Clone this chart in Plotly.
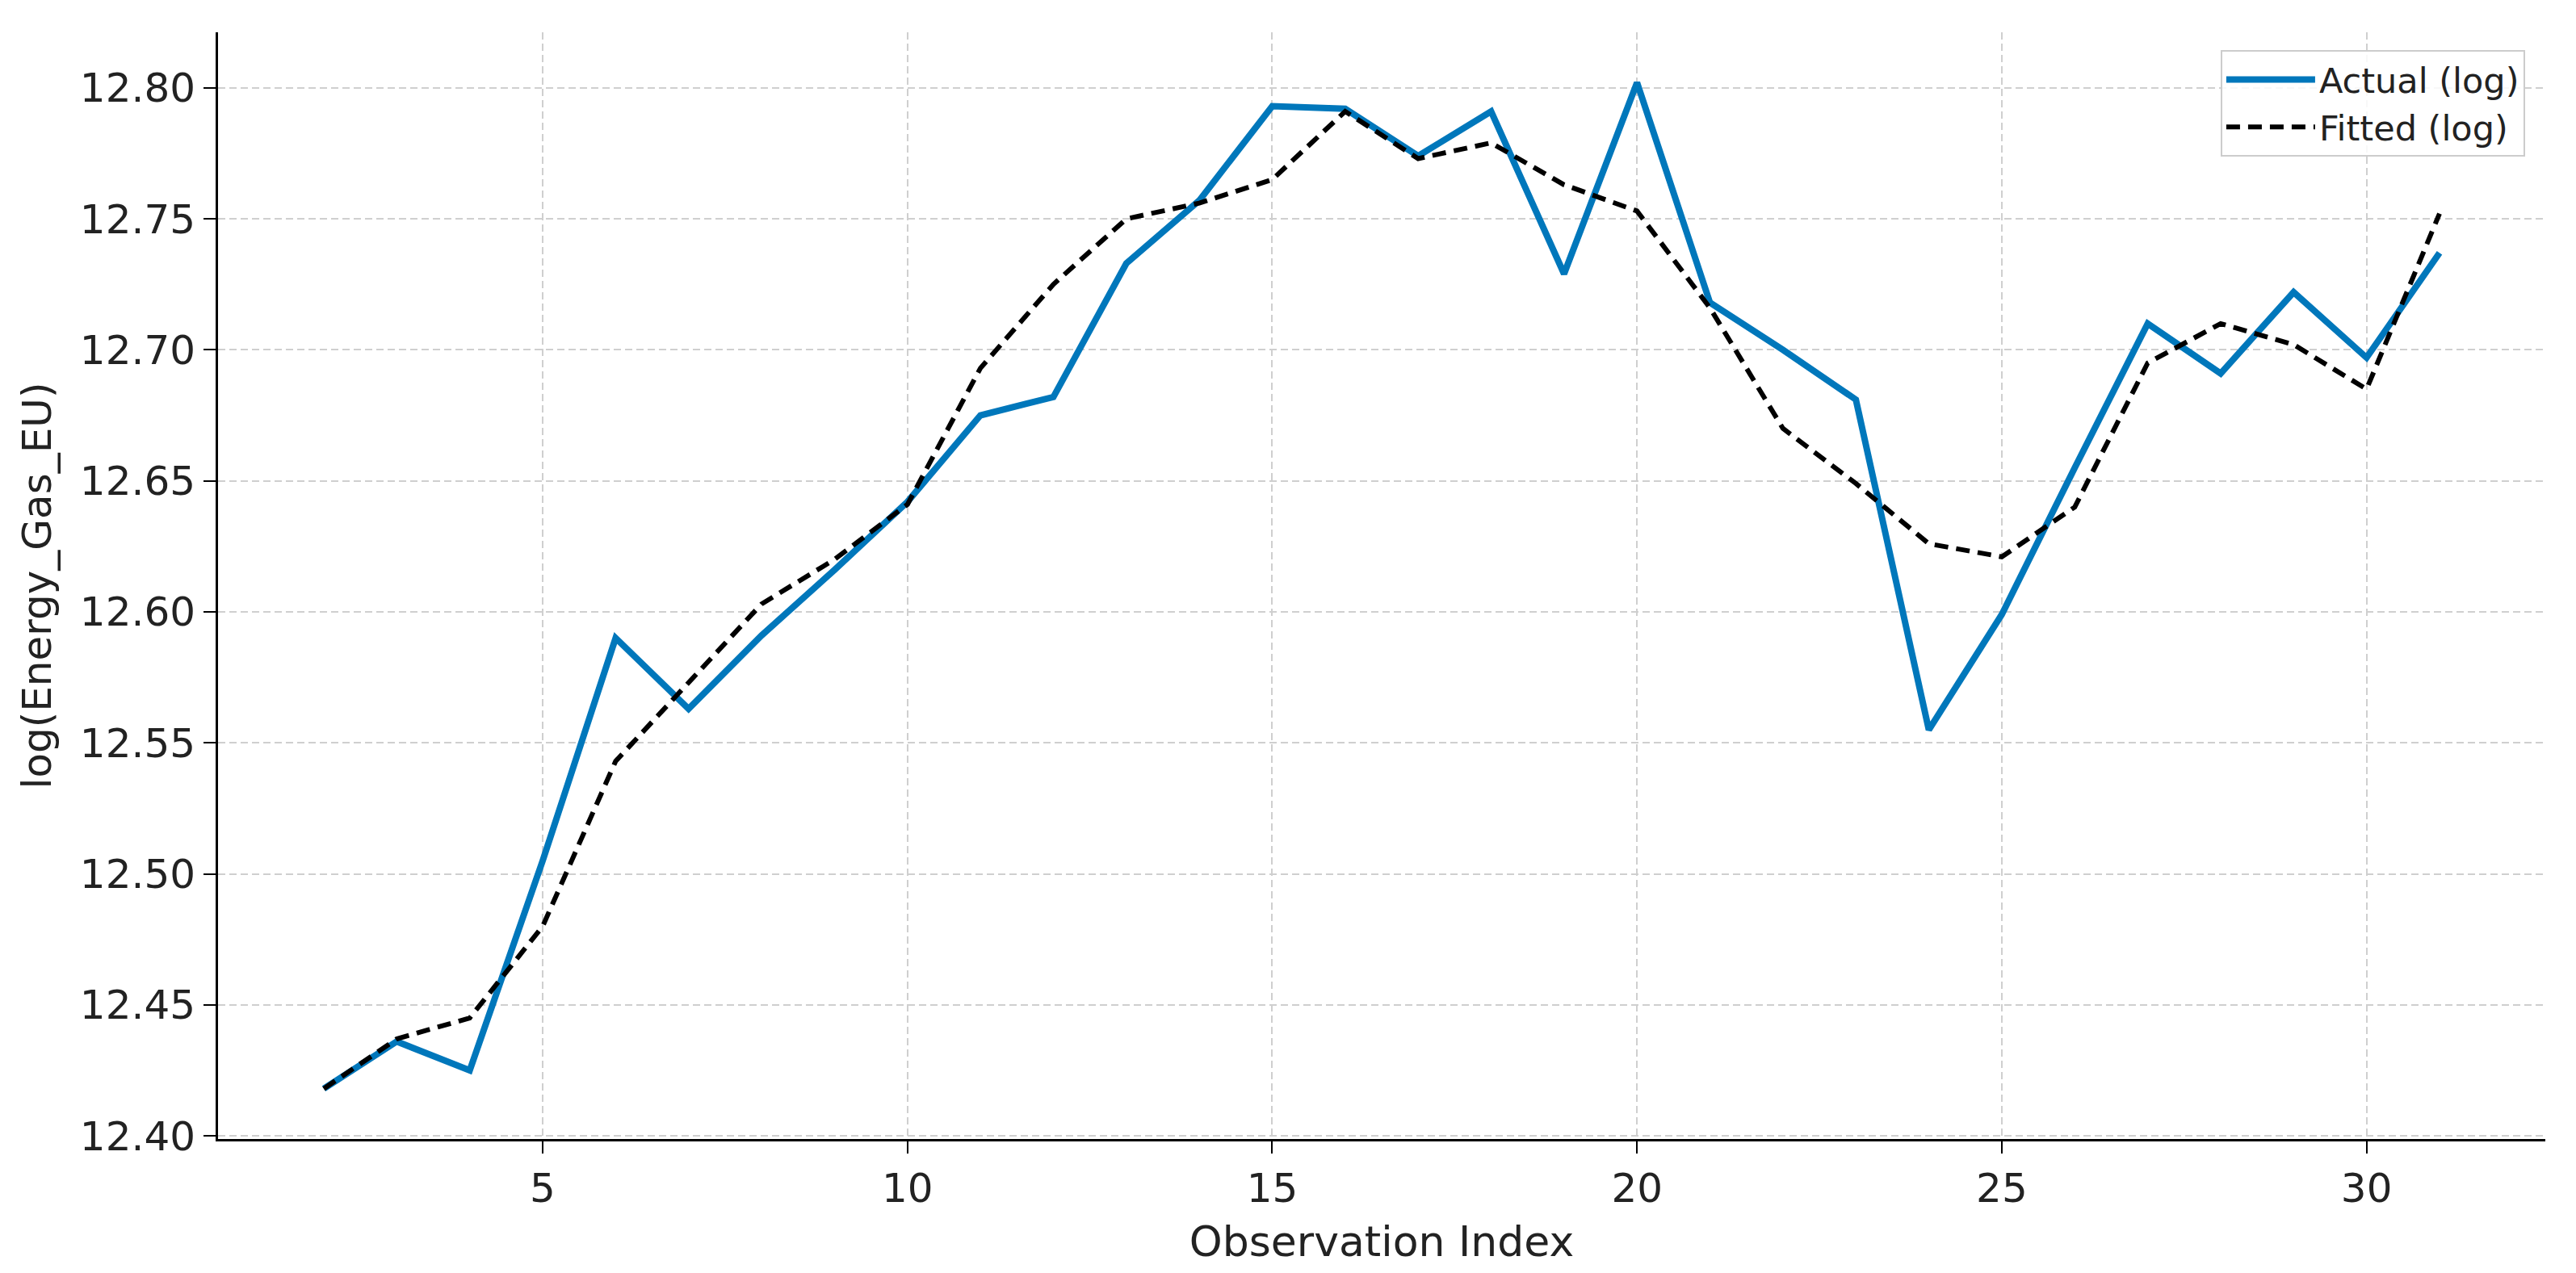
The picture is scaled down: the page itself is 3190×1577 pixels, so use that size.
import plotly.graph_objects as go

obs_index = list(range(2, 32))
actual_log = [12.418, 12.436, 12.425, 12.505, 12.590, 12.563, 12.591, 12.616, 12.642,
              12.675, 12.682, 12.733, 12.757, 12.793, 12.792, 12.774, 12.791, 12.729,
              12.802, 12.718, 12.700, 12.681, 12.555, 12.599, 12.655, 12.710, 12.691,
              12.722, 12.697, 12.737]
fitted_log = [12.418, 12.437, 12.445, 12.480, 12.543, 12.573, 12.603, 12.620, 12.641,
              12.693, 12.725, 12.750, 12.756, 12.765, 12.791, 12.773, 12.779, 12.763,
              12.753, 12.716, 12.670, 12.649, 12.626, 12.621, 12.640, 12.695, 12.710,
              12.702, 12.685, 12.752]
x_ticks = [5, 10, 15, 20, 25, 30]
y_ticks = [12.40, 12.45, 12.50, 12.55, 12.60, 12.65, 12.70, 12.75, 12.80]

FONT = "DejaVu Sans"

fig = go.Figure()
fig.add_trace(go.Scatter(x=obs_index, y=actual_log, mode="lines", name="Actual (log)",
                         line=dict(color="#0077BB", width=8)))
fig.add_trace(go.Scatter(x=obs_index, y=fitted_log, mode="lines", name="Fitted (log)",
                         line=dict(color="black", width=6, dash="17px,10px")))

axis_common = dict(
    showgrid=True, gridcolor="#cfcfcf", gridwidth=2, griddash="9px,5px",
    showline=True, linecolor="black", linewidth=3, mirror=False,
    ticks="outside", ticklen=15, tickwidth=2, tickcolor="black",
    tickfont=dict(family=FONT, size=50, color="#222222"),
    zeroline=False,
)

fig.update_layout(
    width=3174, height=1561,
    paper_bgcolor="white", plot_bgcolor="white",
    margin=dict(l=262, r=30, t=32, b=158),
    font=dict(family=FONT, color="#222222"),
    showlegend=True,
    legend=dict(
        x=0.9913, y=0.984, xanchor="right", yanchor="top",
        bgcolor="rgba(255,255,255,0.85)", bordercolor="#cccccc", borderwidth=2,
        font=dict(family=FONT, size=43, color="#222222"),
        itemwidth=110, tracegroupgap=0,
    ),
    xaxis=dict(axis_common, range=[0.55, 32.45], tickvals=x_ticks,
               ticktext=[str(v) for v in x_ticks],
               title=dict(text="Observation Index", font=dict(family=FONT, size=52, color="#222222"), standoff=20)),
    yaxis=dict(axis_common, range=[12.3988, 12.8212], tickvals=y_ticks,
               ticktext=[f"{v:.2f}" for v in y_ticks],
               title=dict(text="log(Energy_Gas_EU)", font=dict(family=FONT, size=50, color="#222222"), standoff=20)),
)

fig.write_html("out.html")
